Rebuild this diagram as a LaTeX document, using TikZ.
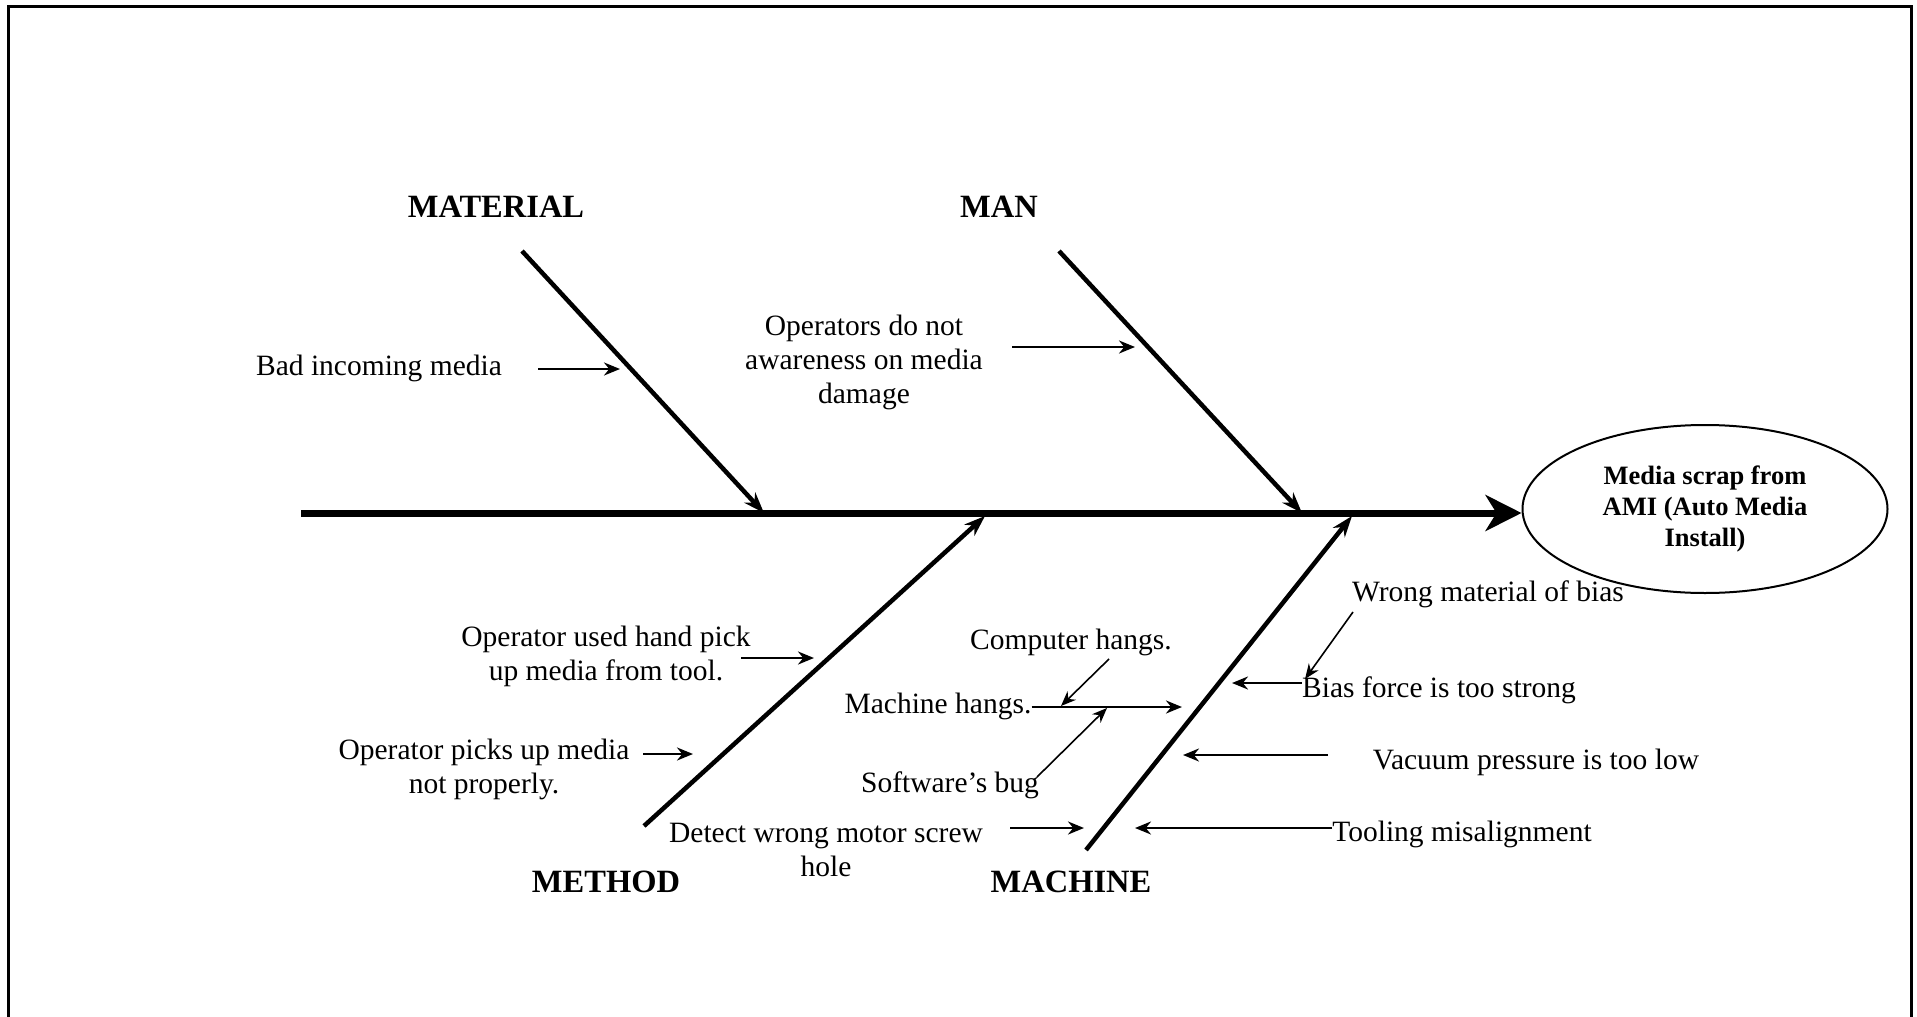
\documentclass[tikz,border=0pt]{standalone}
\usepackage{fontspec}
\setmainfont{Liberation Serif}
\usetikzlibrary{arrows.meta,shapes.geometric}

\begin{document}
\begin{tikzpicture}[x=1pt,y=-1pt,
  txt/.style={font=\fontsize{29.5}{34}\selectfont, align=center, inner sep=0pt, yshift=-2pt},
  cat/.style={font=\fontsize{32.5}{38}\selectfont\bfseries, inner sep=0pt, yshift=-2pt},
  spine/.style={line width=7pt, -{Stealth[length=36pt,width=36pt,inset=11pt]}},
  bone/.style={line width=4.5pt, -{Stealth[length=21pt,width=15pt]}},
  cause/.style={line width=2.5pt, -{Stealth[length=16pt,width=13pt]}},
  subcause/.style={line width=1.6pt, -{Stealth[length=15pt,width=12pt]}},
]
\useasboundingbox (0,0) rectangle (1917,1017);

% page frame
\draw[line width=3pt] (8,1017) -- (8,6) -- (1911,6) -- (1911,1017);

% effect
\node[ellipse, draw, line width=2pt, minimum width=365pt, minimum height=168pt,
      inner sep=0pt, align=center, font=\fontsize{26.5}{31}\selectfont\bfseries]
  (effect) at (1705,509) {Media scrap from\\AMI (Auto Media\\Install)};

% spine
\coordinate (spineL) at (301,513);
\draw[spine] (spineL) -- (effect.west |- spineL);

% category labels
\node[cat] (material) at (496,205) {MATERIAL};
\node[cat] (man)      at (999,205) {MAN};
\node[cat] (method)   at (606,880) {METHOD};
\node[cat] (machine)  at (1071,880) {MACHINE};

% main bones
\coordinate (matS) at (522,251);  \coordinate (matE) at (764,513);
\coordinate (manS) at (1059,251); \coordinate (manE) at (1302,513);
\coordinate (metS) at (644,826);  \coordinate (metE) at (985,516);
\coordinate (macS) at (1086,850); \coordinate (macE) at (1352,516);
\draw[bone] (matS) -- (matE);
\draw[bone] (manS) -- (manE);
\draw[bone] (metS) -- (metE);
\draw[bone] (macS) -- (macE);

% MATERIAL causes
\node[txt] (bad) at (379,366) {Bad incoming media};
\coordinate (badA) at (538,369); \coordinate (badB) at (620,369);
\draw[cause] (badA) -- (badB);

% MAN causes
\node[txt] (aware) at (864,360) {Operators do not\\awareness on media\\damage};
\coordinate (awA) at (1012,347); \coordinate (awB) at (1135,347);
\draw[cause] (awA) -- (awB);

% METHOD causes
\node[txt] (hand) at (606,654) {Operator used hand pick\\up media from tool.};
\coordinate (handA) at (741,658); \coordinate (handB) at (814,658);
\draw[cause] (handA) -- (handB);

\node[txt] (picks) at (484,767) {Operator picks up media\\not properly.};
\coordinate (picksA) at (643,754); \coordinate (picksB) at (693,754);
\draw[cause] (picksA) -- (picksB);

% MACHINE causes
\node[txt] (detect) at (826,848) {Detect wrong motor screw\\hole};
\coordinate (detA) at (1010,828); \coordinate (detB) at (1084,828);
\draw[cause] (detA) -- (detB);

\node[txt] (mhang) at (938,704) {Machine hangs.};
\coordinate (mhB) at (1182,707);
\draw[cause] (mhang.east |- mhB) -- (mhB);

\node[txt] (chang) at (1071,640) {Computer hangs.};
\coordinate (chA) at (1109,659); \coordinate (chB) at (1061,706);
\draw[subcause] (chA) -- (chB);

\node[txt] (bug) at (950,783) {Software’s bug};
\coordinate (bugA) at (1037,777); \coordinate (bugB) at (1107,708);
\draw[subcause] (bugA) -- (bugB);

\node[txt] (bias) at (1439,688) {Bias force is too strong};
\coordinate (biasB) at (1232,683);
\draw[cause] (bias.west |- biasB) -- (biasB);

\node[txt] (wrong) at (1488,592) {Wrong material of bias};
\coordinate (wrA) at (1353,612); \coordinate (wrB) at (1305,679);
\draw[subcause] (wrA) -- (wrB);

\node[txt] (vac) at (1536,760) {Vacuum pressure is too low};
\coordinate (vacA) at (1328,755); \coordinate (vacB) at (1183,755);
\draw[cause] (vacA) -- (vacB);

\node[txt] (tool) at (1462,832) {Tooling misalignment};
\coordinate (toolB) at (1135,828);
\draw[cause] (tool.west |- toolB) -- (toolB);
\end{tikzpicture}
\end{document}
